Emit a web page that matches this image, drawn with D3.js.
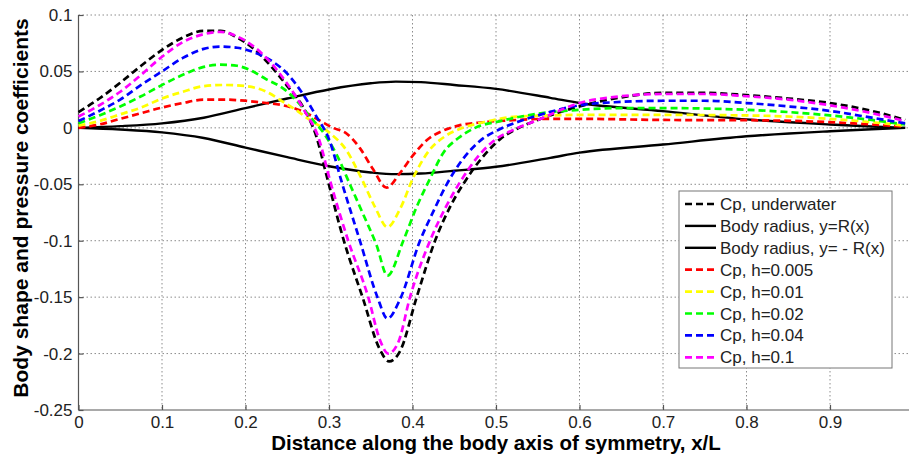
<!DOCTYPE html>
<html lang="en">
<head>
<meta charset="utf-8">
<title>Body shape and pressure coefficients</title>
<style>
    body { margin: 0; background: white; }
    svg { background: white; display: block; }
    text { font-family: Arial, "Liberation Sans", sans-serif; fill: #222; }
    .grid line { stroke: #8c8c8c; stroke-width: 1; stroke-dasharray: 1.5,2.5; }
    .axis path, .axis line { stroke: #555; stroke-width: 1.2; }
    .axis text { font-size: 17px; fill: #222; }
    .cp { fill: none; stroke-width: 2.7; stroke-dasharray: 7,4; }
    .body { fill: none; stroke: #000; stroke-width: 2.4; }
</style>
</head>
<body>
<div id="chart"></div>
<script src="https://cdnjs.cloudflare.com/ajax/libs/d3/7.8.5/d3.min.js"></script>
<script>
// tick values
var xTicks = [0, 0.1, 0.2, 0.3, 0.4, 0.5, 0.6, 0.7, 0.8, 0.9];
var yTicks = [-0.25, -0.2, -0.15, -0.1, -0.05, 0, 0.05, 0.1];

// body radius R(x)
var bodyRadius = [[0,0],[0.05,0.0015],[0.1,0.004],[0.15,0.009],[0.2,0.0175],[0.25,0.026],[0.3,0.034],
    [0.35,0.0395],[0.38,0.041],[0.41,0.0405],[0.45,0.038],[0.5,0.0345],[0.565,0.0266],[0.6,0.022],
    [0.7,0.0148],[0.8,0.0075],[0.9,0.003],[0.95,0.0012],[0.99,0]];

// pressure coefficients [x, Cp]
var cpUnderwater = [[0,0.014],[0.025,0.026],[0.05,0.040],[0.075,0.055],[0.1,0.069],[0.125,0.080],[0.15,0.086],
    [0.17,0.086],[0.19,0.080],[0.21,0.070],[0.23,0.055],[0.25,0.037],[0.27,0.017],[0.285,-0.008],[0.297,-0.042],
    [0.317,-0.098],[0.341,-0.152],[0.36,-0.195],[0.372,-0.207],[0.385,-0.198],[0.405,-0.150],[0.427,-0.100],
    [0.445,-0.070],[0.465,-0.045],[0.485,-0.025],[0.505,-0.010],[0.53,0.001],[0.55,0.007],[0.6,0.019],
    [0.65,0.027],[0.7,0.031],[0.75,0.031],[0.8,0.029],[0.85,0.026],[0.9,0.022],[0.95,0.015],[0.99,0.007]];

var cpH0005 = [[0,0.000],[0.025,0.003],[0.05,0.008],[0.075,0.013],[0.1,0.018],[0.125,0.022],[0.15,0.025],
    [0.175,0.025],[0.2,0.024],[0.225,0.022],[0.245,0.020],[0.26,0.017],[0.273,0.013],[0.29,0.006],[0.305,0.000],
    [0.321,-0.005],[0.337,-0.018],[0.353,-0.037],[0.369,-0.053],[0.385,-0.040],[0.401,-0.024],[0.417,-0.011],
    [0.435,-0.003],[0.455,0.002],[0.485,0.005],[0.525,0.007],[0.565,0.008],[0.6,0.008],[0.7,0.007],
    [0.8,0.0068],[0.9,0.005],[0.95,0.003],[0.99,0.001]];

var cpH001 = [[0,0.002],[0.025,0.006],[0.05,0.012],[0.075,0.018],[0.1,0.026],[0.125,0.032],[0.15,0.037],
    [0.175,0.038],[0.2,0.037],[0.225,0.032],[0.245,0.023],[0.262,0.015],[0.277,0.007],[0.3,-0.004],
    [0.321,-0.020],[0.339,-0.045],[0.355,-0.070],[0.37,-0.088],[0.385,-0.072],[0.401,-0.044],[0.42,-0.020],
    [0.44,-0.007],[0.46,0.000],[0.485,0.005],[0.525,0.010],[0.565,0.011],[0.6,0.0115],[0.7,0.0115],
    [0.8,0.011],[0.9,0.008],[0.95,0.005],[0.99,0.002]];

var cpH002 = [[0,0.004],[0.025,0.011],[0.05,0.019],[0.075,0.028],[0.1,0.038],[0.125,0.047],[0.15,0.054],
    [0.17,0.056],[0.19,0.055],[0.206,0.051],[0.225,0.043],[0.245,0.035],[0.26,0.025],[0.277,0.010],
    [0.295,-0.006],[0.31,-0.025],[0.325,-0.050],[0.34,-0.075],[0.357,-0.104],[0.37,-0.131],[0.389,-0.100],
    [0.405,-0.070],[0.421,-0.045],[0.437,-0.022],[0.455,-0.009],[0.475,0.000],[0.505,0.006],[0.545,0.012],
    [0.6,0.016],[0.65,0.0175],[0.7,0.0175],[0.8,0.016],[0.9,0.011],[0.95,0.007],[0.99,0.003]];

var cpH004 = [[0,0.006],[0.025,0.015],[0.05,0.025],[0.075,0.038],[0.1,0.050],[0.125,0.062],[0.15,0.070],
    [0.17,0.072],[0.19,0.071],[0.21,0.067],[0.234,0.058],[0.25,0.048],[0.265,0.034],[0.285,0.010],
    [0.3,-0.010],[0.316,-0.050],[0.337,-0.100],[0.358,-0.150],[0.37,-0.169],[0.385,-0.152],[0.409,-0.100],
    [0.425,-0.074],[0.441,-0.050],[0.46,-0.028],[0.48,-0.012],[0.505,-0.001],[0.525,0.005],[0.55,0.011],
    [0.6,0.020],[0.65,0.023],[0.7,0.024],[0.75,0.024],[0.8,0.022],[0.85,0.019],[0.9,0.015],[0.95,0.009],
    [0.99,0.004]];

var cpH01 = [[0,0.010],[0.025,0.020],[0.05,0.032],[0.075,0.047],[0.1,0.063],[0.125,0.076],[0.15,0.083],
    [0.17,0.085],[0.19,0.081],[0.21,0.072],[0.23,0.058],[0.25,0.039],[0.27,0.016],[0.288,-0.010],
    [0.301,-0.046],[0.323,-0.100],[0.347,-0.150],[0.361,-0.188],[0.371,-0.200],[0.383,-0.190],[0.397,-0.150],
    [0.421,-0.100],[0.44,-0.070],[0.457,-0.048],[0.48,-0.024],[0.5,-0.010],[0.52,-0.002],[0.55,0.007],
    [0.6,0.022],[0.65,0.028],[0.7,0.030],[0.75,0.030],[0.8,0.028],[0.85,0.025],[0.9,0.020],[0.95,0.013],
    [0.99,0.006]];

var legendLabels = ["Cp, underwater", "Body radius, y=R(x)", "Body radius, y= - R(x)", "Cp, h=0.005",
    "Cp, h=0.01", "Cp, h=0.02", "Cp, h=0.04", "Cp, h=0.1"];
var legendColors = ["#000000", "#000000", "#000000", "#ff0000", "#ffff00", "#00ff00", "#0000ff", "#ff00ff"];
var legendDashed = [true, false, false, true, true, true, true, true];

var width = 909, height = 456;
var plot = {left: 78.5, right: 913.5, top: 15, bottom: 410};

var svg = d3.select("#chart")
    .append("svg")
    .attr("width", width)
    .attr("height", height);

var x = d3.scaleLinear().domain([0, 1]).range([plot.left, plot.right]);
var y = d3.scaleLinear().domain([-0.25, 0.1]).range([plot.bottom, plot.top]);

// grid
var grid = svg.append("g").attr("class", "grid");
grid.selectAll(".vgrid")
    .data(xTicks.filter(function(d) { return d > 0; }))
    .enter().append("line")
    .attr("x1", function(d) { return x(d); })
    .attr("x2", function(d) { return x(d); })
    .attr("y1", plot.top)
    .attr("y2", plot.bottom);
grid.selectAll(".hgrid")
    .data(yTicks.filter(function(d) { return d > -0.25; }))
    .enter().append("line")
    .attr("x1", plot.left)
    .attr("x2", plot.right)
    .attr("y1", function(d) { return y(d); })
    .attr("y2", function(d) { return y(d); });

// axes
svg.append("g")
    .attr("class", "axis")
    .attr("transform", "translate(0," + plot.bottom + ")")
    .call(d3.axisBottom(x).tickValues(xTicks).tickSize(-5).tickPadding(6)
        .tickFormat(function(d) { return d3.format("")(+d.toFixed(2)); }))
    .call(function(g) { g.select(".domain").attr("d", "M" + plot.left + ",0H" + plot.right); });

svg.append("g")
    .attr("class", "axis")
    .attr("transform", "translate(" + plot.left + ",0)")
    .call(d3.axisLeft(y).tickValues(yTicks).tickSize(-5).tickPadding(6)
        .tickFormat(function(d) { return d3.format("")(+d.toFixed(2)).replace("\u2212", "-"); }))
    .call(function(g) { g.select(".domain").attr("d", "M0," + plot.top + "V" + plot.bottom); });

// curves
var line = d3.line()
    .x(function(d) { return x(d[0]); })
    .y(function(d) { return y(d[1]); })
    .curve(d3.curveMonotoneX);

var lower = bodyRadius.map(function(d) { return [d[0], -d[1]]; });

var series = [
    {data: cpUnderwater, color: "#000000", cls: "cp"},
    {data: bodyRadius, color: "#000000", cls: "body"},
    {data: lower, color: "#000000", cls: "body"},
    {data: cpH0005, color: "#ff0000", cls: "cp"},
    {data: cpH001, color: "#ffff00", cls: "cp"},
    {data: cpH002, color: "#00ff00", cls: "cp"},
    {data: cpH004, color: "#0000ff", cls: "cp"},
    {data: cpH01, color: "#ff00ff", cls: "cp"}
];

svg.selectAll(".curve")
    .data(series)
    .enter().append("path")
    .attr("class", function(d) { return d.cls; })
    .attr("d", function(d) { return line(d.data); })
    .style("stroke", function(d) { return d.color; });

// axis labels
svg.append("text")
    .attr("x", (plot.left + plot.right) / 2)
    .attr("y", 450)
    .attr("text-anchor", "middle")
    .style("font-size", "20.5px")
    .style("font-weight", "bold")
    .style("fill", "#000")
    .text("Distance along the body axis of symmetry, x/L");

svg.append("text")
    .attr("transform", "translate(28," + 208 + ") rotate(-90)")
    .attr("text-anchor", "middle")
    .style("font-size", "21px")
    .style("font-weight", "bold")
    .style("fill", "#000")
    .text("Body shape and pressure coefficients");

// legend
var legend = svg.append("g").attr("transform", "translate(679,191)");
legend.append("rect")
    .attr("width", 213)
    .attr("height", 177)
    .style("fill", "white")
    .style("stroke", "#777")
    .style("stroke-width", 1);

var item = legend.selectAll(".item")
    .data(legendLabels)
    .enter().append("g")
    .attr("transform", function(d, i) { return "translate(0," + (13 + i * 21.9) + ")"; });

item.append("line")
    .attr("x1", 6)
    .attr("x2", 37)
    .attr("y1", 0)
    .attr("y2", 0)
    .style("stroke", function(d, i) { return legendColors[i]; })
    .style("stroke-width", function(d, i) { return legendDashed[i] ? 2.7 : 2.4; })
    .style("stroke-dasharray", function(d, i) { return legendDashed[i] ? "7,4" : null; });

item.append("text")
    .attr("x", 41)
    .attr("y", 6)
    .style("font-size", "17px")
    .text(function(d) { return d; });
</script>
</body>
</html>
